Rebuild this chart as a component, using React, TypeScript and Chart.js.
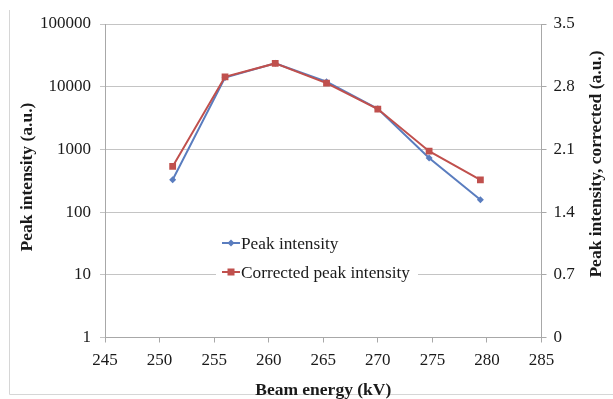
import React, { useEffect, useRef } from "react";
import { Chart, registerables } from "chart.js";

Chart.register(...registerables);

// ---- data ----
const beamEnergy = [251.2, 256, 260.6, 265.3, 270, 274.7, 279.4];
const peakIntensity = [328, 14000, 23700, 12000, 4430, 727, 157];
const correctedPeakIntensity = [1.91, 2.91, 3.06, 2.84, 2.55, 2.08, 1.76];
const xTickValues = [245, 250, 255, 260, 265, 270, 275, 280, 285];
const leftTickValues = [1, 10, 100, 1000, 10000, 100000];
const rightTickValues = [0, 0.7, 1.4, 2.1, 2.8, 3.5];
const rightTickLabels = ["0", "0.7", "1.4", "2.1", "2.8", "3.5"];

const seriesNames = ["Peak intensity", "Corrected peak intensity"];
const xTitle = "Beam energy (kV)";
const leftTitle = "Peak intensity (a.u.)";
const rightTitle = "Peak intensity, corrected (a.u.)";

const BLUE = "#5a7dbf";
const RED = "#c0504d";
const FONT = "'Liberation Serif', 'Times New Roman', serif";
const TEXT = "#1a1a1a";
const GRID = "#c4c4c4";
const AXIS = "#a8a8a8";

const decorPlugin = {
  id: "decor",
  beforeDraw(chart: any) {
    const ctx = chart.ctx;
    ctx.save();
    ctx.strokeStyle = "#d6d6d6";
    ctx.lineWidth = 1;
    ctx.beginPath();
    ctx.moveTo(9.5, 10);
    ctx.lineTo(9.5, 394.5);
    ctx.lineTo(613, 394.5);
    ctx.stroke();
    ctx.restore();
  },
  afterDraw(chart: any) {
    const ctx = chart.ctx;
    const area = chart.chartArea;
    ctx.save();
    ctx.fillStyle = TEXT;
    ctx.font = `bold 17.5px ${FONT}`;
    ctx.textAlign = "center";
    ctx.textBaseline = "middle";
    // left title
    ctx.save();
    ctx.translate(27, 177);
    ctx.rotate(-Math.PI / 2);
    ctx.fillText(leftTitle, 0, 0);
    ctx.restore();
    // right title
    ctx.save();
    ctx.translate(596, 164);
    ctx.rotate(-Math.PI / 2);
    ctx.fillText(rightTitle, 0, 0);
    ctx.restore();
    // x title
    ctx.textBaseline = "alphabetic";
    ctx.fillText(xTitle, (area.left + area.right) / 2, 395);

    // legend
    const lx = 222;
    const rows = [243, 272];
    ctx.fillStyle = "#ffffff";
    ctx.fillRect(216, 230, 202, 54);
    const colors = [BLUE, RED];
    rows.forEach((y, i) => {
      ctx.strokeStyle = colors[i];
      ctx.lineWidth = 2;
      ctx.beginPath();
      ctx.moveTo(lx, y);
      ctx.lineTo(lx + 18, y);
      ctx.stroke();
      ctx.fillStyle = colors[i];
      const cx = lx + 9;
      if (i === 0) {
        ctx.beginPath();
        ctx.moveTo(cx, y - 3.5);
        ctx.lineTo(cx + 3.5, y);
        ctx.lineTo(cx, y + 3.5);
        ctx.lineTo(cx - 3.5, y);
        ctx.closePath();
        ctx.fill();
      } else {
        ctx.fillRect(cx - 3.5, y - 3.5, 7, 7);
      }
      ctx.fillStyle = TEXT;
      ctx.font = `17.3px ${FONT}`;
      ctx.textAlign = "left";
      ctx.textBaseline = "middle";
      ctx.fillText(seriesNames[i], lx + 19, y + 1);
    });
    ctx.restore();
  },
};

export default function App() {
  const ref = useRef<HTMLCanvasElement | null>(null);
  useEffect(() => {
    document.body.style.margin = "0";
    const canvas = ref.current;
    if (!canvas) return;
    const tickFont = { family: FONT, size: 17 };
    const chart = new Chart(canvas, {
      type: "line",
      data: {
        datasets: [
          {
            label: seriesNames[0],
            data: beamEnergy.map((x, i) => ({ x, y: peakIntensity[i] })),
            yAxisID: "y",
            borderColor: BLUE,
            backgroundColor: BLUE,
            borderWidth: 2,
            pointStyle: "rectRot",
            pointRadius: 3.5,
            pointBorderWidth: 0,
            order: 2,
          },
          {
            label: seriesNames[1],
            data: beamEnergy.map((x, i) => ({ x, y: correctedPeakIntensity[i] })),
            yAxisID: "y1",
            borderColor: RED,
            backgroundColor: RED,
            borderWidth: 2,
            pointStyle: "rect",
            pointRadius: 4.8,
            pointBorderWidth: 0,
            order: 1,
          },
        ],
      },
      options: {
        responsive: false,
        animation: false,
        layout: { padding: { top: 24, left: 0, right: 0, bottom: 0 } },
        plugins: {
          legend: { display: false },
          tooltip: { enabled: false },
        },
        scales: {
          x: {
            type: "linear",
            min: 245,
            max: 285,
            afterBuildTicks: (axis: any) => {
              axis.ticks = xTickValues.map((v) => ({ value: v }));
            },
            afterFit: (axis: any) => {
              axis.height = 61.5;
            },
            ticks: {
              font: tickFont,
              color: TEXT,
              padding: 8,
              maxRotation: 0,
              autoSkip: false,
              callback: (v: any) => String(v),
            },
            grid: { drawOnChartArea: false, color: AXIS, tickLength: 5 },
            border: { color: AXIS },
          },
          y: {
            type: "logarithmic",
            position: "left",
            min: 1,
            max: 100000,
            afterBuildTicks: (axis: any) => {
              axis.ticks = leftTickValues.map((v) => ({ value: v }));
            },
            afterFit: (axis: any) => {
              axis.width = 105;
            },
            ticks: {
              font: tickFont,
              color: TEXT,
              padding: 9,
              autoSkip: false,
              callback: (v: any) => String(v),
            },
            grid: { color: GRID, tickLength: 5 },
            border: { color: AXIS },
          },
          y1: {
            type: "linear",
            position: "right",
            min: 0,
            max: 3.5,
            afterBuildTicks: (axis: any) => {
              axis.ticks = rightTickValues.map((v) => ({ value: v }));
            },
            afterFit: (axis: any) => {
              axis.width = 71.5;
            },
            ticks: {
              font: tickFont,
              color: TEXT,
              padding: 7,
              autoSkip: false,
              callback: (v: any) => {
                const idx = rightTickValues.findIndex((t) => Math.abs(t - v) < 1e-6);
                return idx >= 0 ? rightTickLabels[idx] : "";
              },
            },
            grid: { drawOnChartArea: false, color: AXIS, tickLength: 5 },
            border: { color: AXIS },
          },
        },
      } as any,
      plugins: [decorPlugin],
    });
    return () => chart.destroy();
  }, []);
  return (
    <div style={{ width: 613, height: 399, position: "relative", background: "#fff" }}>
      <canvas ref={ref} width={613} height={399} style={{ width: 613, height: 399, display: "block" }} />
    </div>
  );
}
